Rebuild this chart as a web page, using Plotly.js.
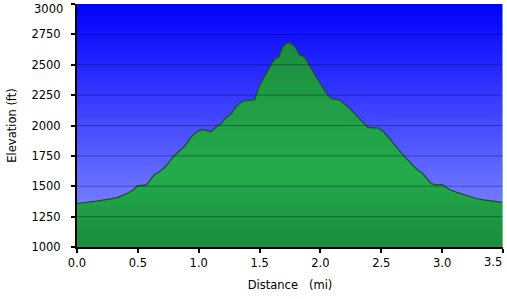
<!DOCTYPE html>
<html>
<head>
<meta charset="utf-8">
<script src="https://cdn.plot.ly/plotly-3.0.1.min.js"></script>
<style>html,body{margin:0;padding:0;background:#fff;}#chart{width:507px;height:299px;}</style>
</head>
<body>
<div id="chart"></div>
<script>
// Distance along the trail (mi)
const distance = [0, 0.08, 0.16, 0.25, 0.33, 0.41, 0.45, 0.48, 0.5, 0.53,
  0.56, 0.58, 0.63, 0.67, 0.71, 0.75, 0.79, 0.84, 0.88, 0.94,
  0.98, 1.03, 1.07, 1.1, 1.14, 1.18, 1.22, 1.27, 1.31, 1.36,
  1.43, 1.46, 1.5, 1.56, 1.6, 1.63, 1.66, 1.69, 1.72, 1.75,
  1.79, 1.83, 1.87, 1.94, 2.0, 2.05, 2.09, 2.16, 2.24, 2.32,
  2.39, 2.44, 2.47, 2.52, 2.6, 2.68, 2.78, 2.84, 2.91, 2.95,
  3.0, 3.06, 3.12, 3.17, 3.23, 3.28, 3.34, 3.39, 3.45, 3.5];
// Elevation (ft)
const elevation = [1358, 1365, 1377, 1392, 1407, 1440, 1462, 1486, 1505, 1508,
  1508, 1522, 1591, 1615, 1646, 1690, 1742, 1790, 1824, 1907,
  1945, 1968, 1960, 1948, 1985, 2010, 2060, 2100, 2160, 2200,
  2209, 2212, 2330, 2442, 2511, 2553, 2565, 2649, 2677, 2682,
  2649, 2580, 2566, 2442, 2347, 2265, 2223, 2209, 2141, 2058,
  1984, 1980, 1981, 1948, 1852, 1756, 1650, 1605, 1523, 1512,
  1514, 1473, 1450, 1432, 1412, 1399, 1388, 1379, 1374, 1368];

const xTicks = [0, 0.5, 1.0, 1.5, 2.0, 2.5, 3.0, 3.5];
const yTicks = [1000, 1250, 1500, 1750, 2000, 2250, 2500, 2750, 3000];
const xRange = [0, 3.5];
const yRange = [1000, 3000];

const bgSvg = '<svg xmlns="http://www.w3.org/2000/svg" width="10" height="100" preserveAspectRatio="none">' +
  '<defs><linearGradient id="g" x1="0" y1="0" x2="0" y2="1">' +
  '<stop offset="0" stop-color="#0000ff"/><stop offset="1" stop-color="#8c96ff"/>' +
  '</linearGradient></defs><rect width="10" height="100" fill="url(#g)"/></svg>';
const bgUri = 'data:image/svg+xml;base64,' + btoa(bgSvg);

const gridShapes = yTicks.slice(1, -1).map(v => ({
  type: 'line', xref: 'paper', x0: 0, x1: 1, yref: 'y', y0: v, y1: v,
  line: {color: 'rgba(0,0,40,0.35)', width: 1}, layer: 'above'
}));
gridShapes.push({
  type: 'line', xref: 'x', x0: xRange[1], x1: xRange[1], yref: 'paper', y0: 0, y1: 1,
  line: {color: '#7fd88f', width: 1.5}, layer: 'above'
});

const trace = {
  x: distance, y: elevation, type: 'scatter', mode: 'lines',
  fill: 'tozeroy',
  line: {color: '#1d4a2c', width: 1.2},
  fillcolor: '#21a247',
  fillgradient: {
    type: 'vertical', start: yRange[0], stop: 2700,
    colorscale: [[0, '#1a8c3e'], [0.35, '#23ab4b'], [0.7, '#209e45'], [1, '#1b8a3d']]
  },
  hoverinfo: 'skip'
};

const fontFam = 'DejaVu Sans, Verdana, sans-serif';
const tickFont = {family: fontFam, size: 11.5, color: '#000'};
const lastX = xTicks[xTicks.length - 1];
const lastY = yTicks[yTicks.length - 1];

const layout = {
  width: 507, height: 299,
  margin: {l: 77, r: 4, t: 4, b: 52},
  paper_bgcolor: '#ffffff',
  plot_bgcolor: '#4a55ff',
  showlegend: false,
  font: {family: fontFam, size: 11, color: '#000'},
  images: [{source: bgUri, xref: 'paper', yref: 'paper', x: 0, y: 1, sizex: 1, sizey: 1,
    sizing: 'stretch', xanchor: 'left', yanchor: 'top', layer: 'below'}],
  shapes: gridShapes,
  annotations: [
    {text: lastX.toFixed(1), xref: 'x', x: lastX, xanchor: 'right', xshift: 1,
     yref: 'paper', y: 0, yanchor: 'top', yshift: -6, showarrow: false, font: tickFont},
    {text: String(lastY), xref: 'paper', x: 0, xanchor: 'right', xshift: -12,
     yref: 'y', y: lastY, yanchor: 'top', yshift: 4, showarrow: false, font: tickFont}
  ],
  xaxis: {
    range: xRange, tickvals: xTicks,
    ticktext: xTicks.map((v, i) => i === xTicks.length - 1 ? '' : v.toFixed(1)),
    showgrid: false, zeroline: false,
    showline: true, linecolor: '#000', linewidth: 2,
    ticks: 'outside', ticklen: 4, tickwidth: 2, tickcolor: '#000',
    tickfont: tickFont,
    title: {text: 'Distance\u00a0\u00a0\u00a0(mi)', font: tickFont, standoff: 12}
  },
  yaxis: {
    range: yRange, tickvals: yTicks,
    ticktext: yTicks.map((v, i) => i === yTicks.length - 1 ? '' : String(v)),
    showgrid: false, zeroline: false,
    showline: true, linecolor: '#000', linewidth: 2,
    ticks: 'outside', ticklen: 4, tickwidth: 2, tickcolor: '#000',
    ticklabelstandoff: 8,
    tickfont: tickFont,
    title: {text: 'Elevation\u00a0(ft)', font: tickFont, standoff: 12}
  }
};

Plotly.newPlot('chart', [trace], layout, {staticPlot: true, displayModeBar: false});
</script>
</body>
</html>
